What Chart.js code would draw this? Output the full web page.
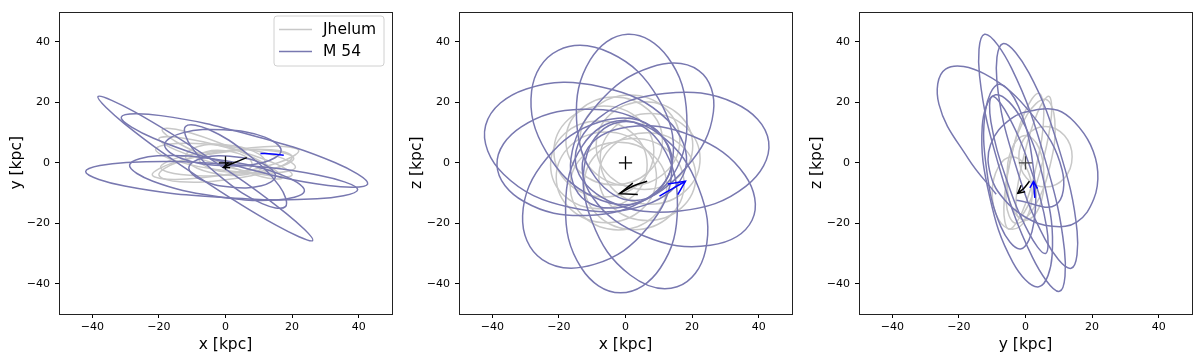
<!DOCTYPE html>
<html>
<head>
<meta charset="utf-8">
<script src="https://cdn.jsdelivr.net/npm/chart.js@4.4.0/dist/chart.umd.min.js"></script>
<style>
  body { margin: 0; background: #fff; }
  .wrap { position: relative; width: 1200px; height: 361px; }
  canvas { position: absolute; top: 0; }
</style>
</head>
<body>
<div class="wrap">
  <canvas id="pXY" width="400" height="361" style="left:0"></canvas>
  <canvas id="pXZ" width="400" height="361" style="left:400px"></canvas>
  <canvas id="pYZ" width="400" height="361" style="left:800px"></canvas>
</div>
<script>
// ===== Data (kpc) =====
const tickVals = [-40, -20, 0, 20, 40];

// x-y projection: each loop is a closed ring of points
const m54XY = [
  [[-38.3,21.9],[-27.4,16.9],[-4.0,0.9],[18.2,-16.7],[26.2,-25.7],[15.3,-20.7],[-8.1,-4.7],[-30.3,12.9]],
  [[-31.3,15.1],[-19.4,15.6],[7.3,9.3],[33.0,0.0],[42.7,-7.0],[30.8,-7.5],[4.1,-1.2],[-21.6,8.1]],
  [[-42.0,-2.9],[-29.8,0.1],[-0.8,-0.4],[28.0,-4.1],[39.7,-8.9],[27.5,-11.9],[-1.6,-11.4],[-30.3,-7.7]],
  [[-28.8,-0.7],[-20.4,2.3],[-1.6,0.9],[16.7,-3.9],[23.7,-9.4],[15.3,-12.3],[-3.5,-11.0],[-21.8,-6.1]],
  [[-18.3,6.0],[-12.9,9.9],[-0.5,10.9],[11.8,8.5],[16.7,4.0],[11.3,0.1],[-1.1,-0.9],[-13.4,1.5]],
  [[-12.0,12.0],[-5.0,11.0],[6.6,2.9],[16.2,-7.7],[18.0,-14.5],[11.0,-13.5],[-0.6,-5.4],[-10.2,5.2]],
  [[-11.0,-1.5],[-6.8,1.6],[2.6,2.0],[11.6,-0.5],[15.0,-4.5],[10.8,-7.6],[1.4,-8.0],[-7.6,-5.5]]
];
const jhelumXY = [
  [[-20.0,8.0],[-13.5,8.3],[0.9,4.9],[14.8,-0.2],[20.0,-4.0],[13.5,-4.3],[-0.9,-0.9],[-14.8,4.2]],
  [[-21.0,4.5],[-14.5,6.4],[0.6,5.5],[15.3,2.2],[21.0,-1.5],[14.5,-3.4],[-0.6,-2.5],[-15.3,0.8]],
  [[-19.5,-1.5],[-13.9,1.8],[0.2,4.0],[14.4,3.9],[20.5,1.5],[14.9,-1.8],[0.8,-4.0],[-13.4,-3.9]],
  [[-19.0,11.0],[-12.9,10.6],[0.2,5.7],[12.6,-0.8],[17.0,-5.0],[10.9,-4.6],[-2.2,0.3],[-14.6,6.8]],
  [[-22.0,-4.0],[-16.0,-0.1],[-0.7,3.8],[15.1,5.5],[22.0,4.0],[16.0,0.1],[0.7,-3.8],[-15.1,-5.5]],
  [[-12.0,2.0],[-8.5,5.3],[0.0,6.0],[8.5,3.8],[12.0,0.0],[8.5,-3.3],[0.0,-4.0],[-8.5,-1.8]],
  [[-8.0,1.5],[-5.7,3.7],[0.0,4.0],[5.7,2.3],[8.0,-0.5],[5.7,-2.7],[0.0,-3.0],[-5.7,-1.3]],
  [[-20.0,-4.0],[-14.6,0.1],[-0.6,3.5],[13.7,4.3],[20.0,2.0],[14.6,-2.1],[0.6,-5.5],[-13.7,-6.3]]
];

// x-z projection
const m54XZ = [
  [[0.7,42.5],[12.7,34.9],[18.4,15.7],[14.3,-4.0],[3.0,-12.5],[-9.0,-4.9],[-14.7,14.3],[-10.6,34.0]],
  [[-20.2,37.2],[-4.5,36.3],[9.8,21.4],[14.2,1.3],[6.2,-12.2],[-9.6,-11.3],[-23.8,3.6],[-28.2,23.7]],
  [[-42.0,12.4],[-29.8,24.4],[-7.2,25.1],[12.6,14.2],[18.0,-2.0],[5.8,-14.0],[-16.8,-14.7],[-36.6,-3.8]],
  [[-38.6,-0.7],[-30.5,-12.8],[-11.7,-17.4],[6.7,-11.6],[14.0,1.0],[5.9,13.1],[-12.9,17.7],[-31.3,11.9]],
  [[-25.0,-32.0],[-9.4,-33.6],[6.7,-21.4],[13.9,-2.5],[8.0,12.0],[-7.6,13.6],[-23.7,1.4],[-30.9,-17.5]],
  [[-1.5,-43.0],[10.5,-34.7],[15.6,-14.5],[10.9,5.7],[-0.9,14.0],[-12.9,5.7],[-18.0,-14.5],[-13.3,-34.7]],
  [[15.5,-41.0],[24.0,-29.1],[22.0,-8.4],[10.6,9.1],[-3.5,13.0],[-12.0,1.1],[-10.0,-19.6],[1.4,-37.1]],
  [[38.0,-19.0],[35.9,-4.1],[20.4,8.7],[0.6,11.8],[-12.0,3.5],[-9.9,-11.4],[5.6,-24.2],[25.5,-27.3]],
  [[43.0,7.0],[32.9,19.7],[11.7,22.9],[-8.1,14.8],[-15.0,0.0],[-4.9,-12.7],[16.3,-15.9],[36.1,-7.8]],
  [[22.0,30.5],[26.4,16.8],[18.3,-1.5],[2.4,-13.6],[-12.0,-12.5],[-16.4,1.2],[-8.3,19.5],[7.6,31.6]]
];
const jhelumXZ = [
  [[22.4,1.3],[18.0,11.9],[7.4,16.3],[-3.2,11.9],[-7.6,1.3],[-3.2,-9.3],[7.4,-13.7],[18.0,-9.3]],
  [[20.2,5.7],[16.0,16.0],[5.7,20.2],[-4.6,16.0],[-8.8,5.7],[-4.6,-4.6],[5.7,-8.8],[16.0,-4.6]],
  [[16.3,7.4],[11.9,18.0],[1.3,22.4],[-9.3,18.0],[-13.7,7.4],[-9.3,-3.2],[1.3,-7.6],[11.9,-3.2]],
  [[11.1,7.3],[6.9,17.5],[-3.4,21.8],[-13.7,17.5],[-17.9,7.3],[-13.7,-3.0],[-3.4,-7.3],[6.9,-3.0]],
  [[8.5,3.8],[4.1,14.4],[-6.5,18.8],[-17.1,14.4],[-21.5,3.8],[-17.1,-6.9],[-6.5,-11.3],[4.1,-6.9]],
  [[6.5,-0.7],[2.3,9.6],[-8.0,13.8],[-18.3,9.6],[-22.5,-0.7],[-18.3,-11.0],[-8.0,-15.2],[2.3,-11.0]],
  [[9.3,-4.8],[4.9,5.8],[-5.8,10.2],[-16.4,5.8],[-20.8,-4.8],[-16.4,-15.4],[-5.8,-19.8],[4.9,-15.4]],
  [[12.4,-7.7],[8.2,2.6],[-2.1,6.8],[-12.4,2.6],[-16.6,-7.7],[-12.4,-18.0],[-2.1,-22.2],[8.2,-18.0]],
  [[17.6,-7.1],[13.2,3.6],[2.6,8.0],[-8.0,3.6],[-12.4,-7.1],[-8.0,-17.7],[2.6,-22.1],[13.2,-17.7]],
  [[21.1,-4.6],[16.8,5.7],[6.6,9.9],[-3.7,5.7],[-8.0,-4.6],[-3.7,-14.9],[6.6,-19.1],[16.8,-14.9]]
];

// y-z projection
const m54YZ = [
  [[-12.3,42.5],[-4.2,31.3],[5.7,1.8],[11.7,-28.8],[10.2,-42.5],[2.1,-31.3],[-7.8,-1.8],[-13.8,28.8]],
  [[-6.8,39.4],[1.0,29.8],[10.2,4.1],[15.5,-22.7],[13.7,-34.9],[5.9,-25.3],[-3.3,0.4],[-8.6,27.2]],
  [[-10.5,6.0],[-4.3,14.6],[3.7,17.6],[9.7,17.4],[14.7,13.5],[19.5,6.0],[21.7,-3.0],[20.5,-12.0],[15.5,-19.5],[8.0,-21.0],[0.0,-18.0],[-6.5,-12.0],[-10.5,-4.0]],
  [[-8.0,26.0],[-2.1,18.6],[2.2,-0.4],[2.5,-19.9],[-1.5,-28.5],[-7.4,-21.1],[-11.7,-2.1],[-12.0,17.4]],
  [[-9.0,22.5],[-1.2,14.4],[5.8,-7.6],[8.0,-30.5],[4.0,-41.0],[-3.8,-32.9],[-10.8,-11.0],[-13.0,12.0]],
  [[-10.0,22.0],[-5.0,15.2],[1.8,-2.8],[6.4,-21.6],[6.0,-30.0],[1.0,-23.2],[-5.8,-5.2],[-10.4,13.6]]
];
const m54YZOpen = [
  [[-8.8,-10.4],[-17.2,1.4],[-26.0,19.4],[-24.0,31.0],[-12.3,29.4],[2.2,15.6],[11.0,-2.4],[9.0,-14.0],[-2.7,-12.4]]
];
const jhelumYZ = [
  [[4.0,23.0],[5.5,15.9],[3.4,-0.3],[-0.9,-16.0],[-5.0,-22.0],[-6.5,-14.9],[-4.4,1.3],[-0.1,17.0]],
  [[6.0,21.0],[8.8,14.1],[7.4,-0.8],[2.5,-14.9],[-3.0,-20.0],[-5.8,-13.1],[-4.4,1.8],[0.5,15.9]],
  [[14.0,2.0],[11.7,9.0],[6.0,12.0],[0.3,9.0],[-2.0,2.0],[0.3,-5.0],[6.0,-8.0],[11.7,-5.0]],
  [[2.0,-10.0],[0.2,-1.5],[-4.0,2.0],[-8.2,-1.5],[-10.0,-10.0],[-8.2,-18.5],[-4.0,-22.0],[0.2,-18.5]],
  [[7.0,22.0],[7.8,15.7],[5.4,1.3],[1.4,-12.6],[-2.0,-18.0],[-2.8,-11.7],[-0.4,2.7],[3.6,16.6]],
  [[5.5,-5.0],[4.0,5.0],[0.0,9.0],[-4.0,5.0],[-5.5,-5.0],[-4.0,-15.0],[0.0,-19.0],[4.0,-15.0]]
];

// current positions / direction arrows
const blackShaftXY = [[6.4,1.7],[2.8,0.1],[-0.6,-1.5]];
const blackHeadXY = [[0.9,0.1],[-0.6,-1.5],[1.4,-1.6]];
const blueShaftXY = [[10.5,3.1],[14.0,2.9],[17.5,2.5]];
const blueHeadXY = [];
const blackShaftXZ = [[6.5,-6.1],[2.5,-7.6],[-1.8,-10.2]];
const blackHeadXZ = [[2.2,-6.7],[-1.8,-10.2],[3.7,-10.5]];
const blueShaftXZ = [[10.2,-11.0],[14.0,-8.6],[18.0,-6.1]];
const blueHeadXZ = [[12.7,-7.0],[18.0,-6.1],[15.7,-10.5]];
const blackShaftYZ = [[1.2,-6.1],[-0.4,-8.3],[-2.3,-10.1]];
const blackHeadYZ = [[-1.3,-7.4],[-2.3,-10.1],[-0.1,-9.6]];
const blueShaftYZ = [[2.8,-11.6],[2.6,-9.0],[2.4,-6.2]];
const blueHeadYZ = [[1.3,-8.3],[2.4,-6.2],[3.6,-8.5]];

const GREY = '#c8c8c8';
const NAVY = '#7878b0';
const FONT = "'DejaVu Sans', sans-serif";
Chart.defaults.font.family = FONT;
Chart.defaults.font.size = 11;
Chart.defaults.color = '#000';

// ===== Helpers =====
// closed rings: wrap one point on each side so the spline is smooth at the seam,
// and hide the two helper segments
function ringData(loops) {
    const out = [];
    loops.forEach(lp => {
        const n = lp.length;
        for (let k = -1; k <= n + 1; k++) {
            const p = lp[(k + n) % n];
            out.push({ x: p[0], y: p[1], hide: k === -1 || k === n });
        }
        out.push({ x: null, y: null });
    });
    return out;
}
function pathData(paths) {
    const out = [];
    paths.forEach(pp => {
        pp.forEach(p => out.push({ x: p[0], y: p[1] }));
        out.push({ x: null, y: null });
    });
    return out;
}
function orbitSet(label, data, color, order) {
    return {
        label, data, order,
        showLine: true, borderColor: color, borderWidth: 1.5, tension: 0.4,
        pointRadius: 0, pointHoverRadius: 0,
        segment: { borderColor: ctx => (data[ctx.p0DataIndex] && data[ctx.p0DataIndex].hide) ? 'rgba(0,0,0,0)' : undefined }
    };
}
function lineSet(pts, color, tension) {
    return {
        data: pathData([pts]), showLine: true, borderColor: color, borderWidth: 1.5,
        tension, pointRadius: 0, pointHoverRadius: 0, order: 0
    };
}
const fmt = v => (v < 0 ? '\u2212' + Math.abs(v) : String(v));

const frame = {
    id: 'frame',
    afterDraw(chart, args, o) {
        const { ctx, chartArea: a } = chart;
        ctx.save();
        ctx.strokeStyle = '#222';
        ctx.lineWidth = 1;
        ctx.strokeRect(Math.round(a.left) + 0.5, Math.round(a.top) + 0.5,
            Math.round(a.right - a.left), Math.round(a.bottom - a.top));
        ctx.fillStyle = '#000';
        ctx.font = '15.5px ' + FONT;
        ctx.textAlign = 'center';
        ctx.textBaseline = 'middle';
        ctx.fillText(o.xTitle, (a.left + a.right) / 2, 345);
        ctx.translate(16.5, (a.top + a.bottom) / 2);
        ctx.rotate(-Math.PI / 2);
        ctx.fillText(o.yTitle, 0, 0);
        ctx.restore();

        if (o.legend) {
            ctx.save();
            const x0 = 274, y0 = 16, w = 110, h = 50, r = 3;
            ctx.beginPath();
            ctx.moveTo(x0 + r, y0);
            ctx.arcTo(x0 + w, y0, x0 + w, y0 + h, r);
            ctx.arcTo(x0 + w, y0 + h, x0, y0 + h, r);
            ctx.arcTo(x0, y0 + h, x0, y0, r);
            ctx.arcTo(x0, y0, x0 + w, y0, r);
            ctx.closePath();
            ctx.fillStyle = 'rgba(255,255,255,0.85)';
            ctx.fill();
            ctx.strokeStyle = '#d0d0d0';
            ctx.lineWidth = 1;
            ctx.stroke();
            [['Jhelum', GREY, 29.5], ['M 54', NAVY, 51.5]].forEach(([t, c, y]) => {
                ctx.strokeStyle = c;
                ctx.lineWidth = 1.5;
                ctx.beginPath();
                ctx.moveTo(279, y);
                ctx.lineTo(312, y);
                ctx.stroke();
                ctx.fillStyle = '#000';
                ctx.font = '15.5px ' + FONT;
                ctx.textAlign = 'left';
                ctx.textBaseline = 'middle';
                ctx.fillText(t, 323, y + 0.5);
            });
            ctx.restore();
        }
    }
};

function axis(extra) {
    return Object.assign({
        type: 'linear', min: -50, max: 50,
        afterBuildTicks: s => { s.ticks = tickVals.map(v => ({ value: v })); },
        grid: { drawOnChartArea: false, drawTicks: true, tickLength: 4, color: '#000', lineWidth: 1 },
        border: { display: false },
        ticks: { color: '#000', padding: 3, autoSkip: false, maxRotation: 0, font: { family: FONT, size: 11 }, callback: fmt }
    }, extra);
}

function panel(id, p) {
    new Chart(document.getElementById(id), {
        type: 'scatter',
        data: {
            datasets: [
                { data: [{ x: 0, y: 0 }], showLine: false, pointStyle: 'cross', pointRadius: 6.6,
                  pointBorderWidth: 1.3, borderColor: p.markColor, order: 0 },
                lineSet(p.blackShaft, '#000', 0.4),
                lineSet(p.blackHead, '#000', 0),
                lineSet(p.blueShaft, '#0000ff', 0.4),
                lineSet(p.blueHead, '#0000ff', 0),
                orbitSet('M 54', ringData(p.m54).concat(pathData(p.m54Open || [])), NAVY, 1),
                orbitSet('Jhelum', ringData(p.jhelum), GREY, 2)
            ]
        },
        options: {
            responsive: false, animation: false, devicePixelRatio: 1,
            layout: { autoPadding: false, padding: { left: 0, right: 8, top: 8, bottom: 0 } },
            plugins: { legend: { display: false }, tooltip: { enabled: false },
                       frame: { xTitle: p.xTitle, yTitle: p.yTitle, legend: p.legend } },
            scales: {
                x: axis({ afterFit: s => { s.height = 47; } }),
                y: axis({ afterFit: s => { s.width = p.left; }, ticks: { color: '#000', padding: 5, font: { family: FONT, size: 11 }, callback: fmt } })
            }
        },
        plugins: [frame]
    });
}

panel('pXY', { m54: m54XY, jhelum: jhelumXY, blackShaft: blackShaftXY, blackHead: blackHeadXY,
    blueShaft: blueShaftXY, blueHead: blueHeadXY, markColor: '#000', xTitle: 'x [kpc]', yTitle: 'y [kpc]', legend: true, left: 59 });
panel('pXZ', { m54: m54XZ, jhelum: jhelumXZ, blackShaft: blackShaftXZ, blackHead: blackHeadXZ,
    blueShaft: blueShaftXZ, blueHead: blueHeadXZ, markColor: '#000', xTitle: 'x [kpc]', yTitle: 'z [kpc]', legend: false, left: 59 });
panel('pYZ', { m54: m54YZ, m54Open: m54YZOpen, jhelum: jhelumYZ, blackShaft: blackShaftYZ, blackHead: blackHeadYZ,
    blueShaft: blueShaftYZ, blueHead: blueHeadYZ, markColor: '#444', xTitle: 'y [kpc]', yTitle: 'z [kpc]', legend: false, left: 59 });
</script>
</body>
</html>
